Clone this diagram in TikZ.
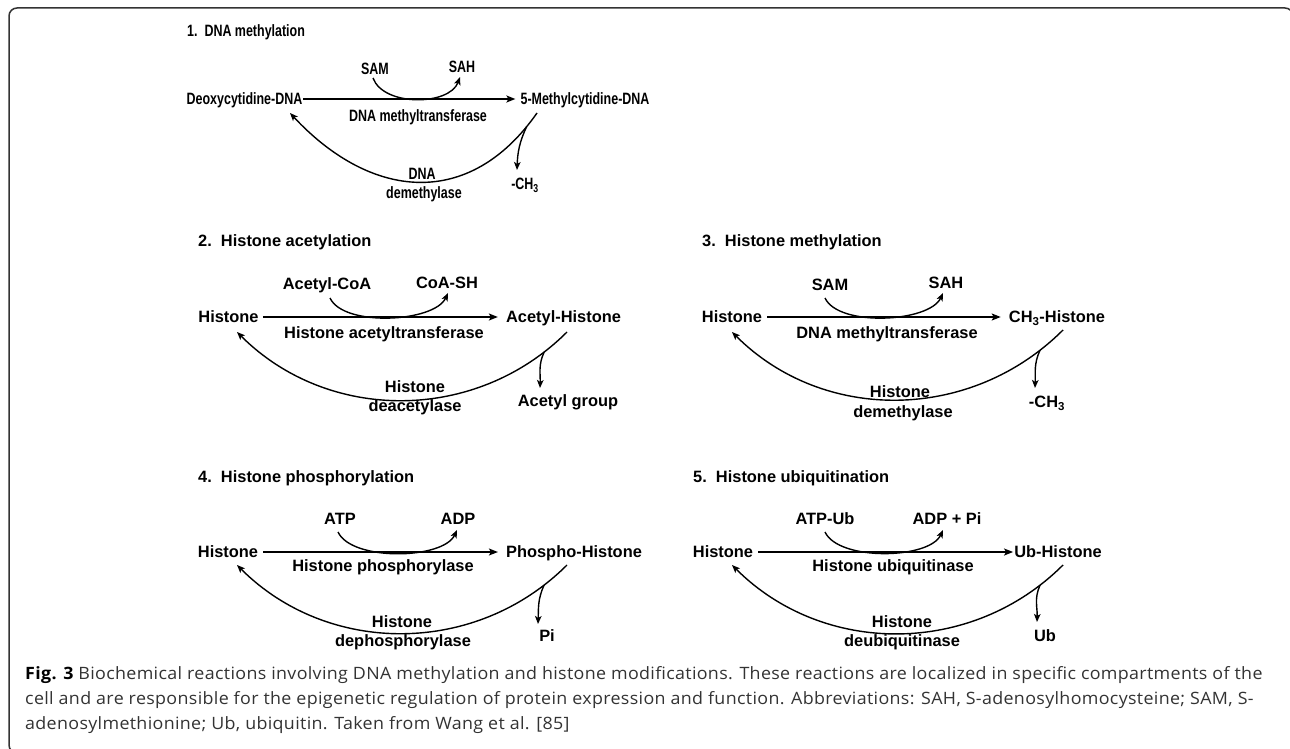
\documentclass[tikz,border=0pt]{standalone}
\usepackage{fontspec}
\setmainfont{Liberation Sans}
\newfontfamily\dfont{Liberation Sans}
\newfontfamily\nfont{Liberation Sans}[FakeStretch=0.76]
\newfontfamily\cfont{Open Sans}[FakeStretch=1.05,LetterSpace=2]
\usetikzlibrary{arrows.meta}
\tikzset{
  lbl/.style={inner sep=0pt, text height=11.7pt, text depth=0pt, font=\dfont\bfseries\fontsize{16.4}{18}\selectfont},
  nlbl/.style={lbl, font=\nfont\bfseries\fontsize{16.4}{18}\selectfont},
  conn/.style={line width=1.5pt, -{Stealth[length=9pt,width=7pt,inset=2pt]}},
  curv/.style={line width=1.4pt, -{Stealth[length=8pt,width=6.5pt,inset=2pt]}},
  capl/.style={inner sep=0pt, anchor=base west, text=black!80, font=\cfont\fontsize{17}{20}\selectfont},
  frame/.style={draw=black!80, line width=1.5pt, rounded corners=8pt}
}
\begin{document}
\begin{tikzpicture}[x=1pt,y=1pt]
\useasboundingbox (0,0) rectangle (1290,-749);
\clip (0,0) rectangle (1290,-749);
\fill[white] (0,0) rectangle (1290,-749);
\draw[frame] (24,-753) -- (9,-753) -- (9,-8) -- (1293,-8) -- (1293,-24);

% ---------- Panel 1 ----------
\node[nlbl, anchor=west] (t1) at (187,-31) {1.\ \ DNA methylation};
\node[nlbl] (n1a) at (244.5,-99) {Deoxycytidine-DNA};
\node[nlbl] (n1b) at (585,-99) {5-Methylcytidine-DNA};
\node[nlbl] (c1a) at (375,-69) {SAM};
\node[nlbl] (c1b) at (462,-67) {SAH};
\node[nlbl] (e1) at (418,-116) {DNA methyltransferase};
\node[nlbl] (d1a) at (422,-174) {DNA};
\node[nlbl] (d1b) at (424,-193) {demethylase};
\node[nlbl] (p1) at (525,-184) {-CH\textsubscript{3}};
\coordinate (tip1) at (517,-170);
\draw[conn, shorten <=0.5pt, shorten >=5pt] (n1a.east) -- (n1b.west);
\draw[curv] ([shift={(-2,-9)}]c1a.center) to[out=-70,in=-110,looseness=0.9] ([shift={(-2,-10)}]c1b.center);
\draw[curv] ([shift={(-48,-14)}]n1b.center) to[out=-125,in=-47,looseness=1.23] coordinate[pos=0.05] (j1) ([shift={(45.5,-14)}]n1a.center);
\draw[curv] (j1) to[out=-115,in=88] (tip1);

% ---------- Panel 2 ----------
\node[lbl, anchor=west] (t2) at (198,-241) {2.\ \ Histone acetylation};
\node[lbl] (n2a) at (228.5,-317) {Histone};
\node[lbl] (n2b) at (563.5,-317) {Acetyl-Histone};
\node[lbl] (c2a) at (327,-284) {Acetyl-CoA};
\node[lbl] (c2b) at (447,-283) {CoA-SH};
\node[lbl] (e2) at (384,-333) {Histone acetyltransferase};
\node[lbl] (d2a) at (415,-387) {Histone};
\node[lbl] (d2b) at (415,-406) {deacetylase};
\node[lbl] (p2) at (568,-401) {Acetyl group};
\coordinate (tip2) at (540,-388);
\draw[conn, shorten <=4pt, shorten >=8pt] (n2a.east) -- (n2b.west);
\draw[curv] ([shift={(3,-14)}]c2a.center) to[out=-65,in=-115,looseness=0.7] ([shift={(1,-10)}]c2b.center);
\draw[curv] ([shift={(3.5,-15)}]n2b.center) to[out=-135,in=-45] coordinate[pos=0.08] (j2) ([shift={(8.5,-15)}]n2a.center);
\draw[curv] (j2) to[out=-115,in=88] (tip2);

% ---------- Panel 3 ----------
\node[lbl, anchor=west] (t3) at (702,-241) {3.\ \ Histone methylation};
\node[lbl] (n3a) at (732,-317) {Histone};
\node[lbl] (n3b) at (1057,-317) {CH\textsubscript{3}-Histone};
\node[lbl] (c3a) at (830,-285) {SAM};
\node[lbl] (c3b) at (946,-283) {SAH};
\node[lbl] (e3) at (887,-333) {DNA methyltransferase};
\node[lbl] (d3a) at (900,-392) {Histone};
\node[lbl] (d3b) at (903,-412) {demethylase};
\node[lbl] (p3) at (1047,-402) {-CH\textsubscript{3}};
\coordinate (tip3) at (1035,-388);
\draw[conn, shorten <=5pt, shorten >=8pt] (n3a.east) -- (n3b.west);
\draw[curv] ([shift={(-5,-13)}]c3a.center) to[out=-65,in=-115,looseness=0.7] ([shift={(-3,-10)}]c3b.center);
\draw[curv] ([shift={(6,-13)}]n3b.center) to[out=-135,in=-45] coordinate[pos=0.08] (j3) ([shift={(0,-15)}]n3a.center);
\draw[curv] (j3) to[out=-115,in=88] (tip3);

% ---------- Panel 4 ----------
\node[lbl, anchor=west] (t4) at (198,-477) {4.\ \ Histone phosphorylation};
\node[lbl] (n4a) at (228,-552) {Histone};
\node[lbl] (n4b) at (574,-552) {Phospho-Histone};
\node[lbl] (c4a) at (340,-519) {ATP};
\node[lbl] (c4b) at (458,-519) {ADP};
\node[lbl] (e4) at (383,-566) {Histone phosphorylase};
\node[lbl] (d4a) at (402,-622) {Histone};
\node[lbl] (d4b) at (403,-641) {dephosphorylase};
\node[lbl] (p4) at (547,-636) {Pi};
\coordinate (tip4) at (538,-624);
\draw[conn, shorten <=5pt, shorten >=8pt] (n4a.east) -- (n4b.west);
\draw[curv] ([shift={(-2,-13)}]c4a.center) to[out=-65,in=-115,looseness=0.7] ([shift={(-1,-11)}]c4b.center);
\draw[curv] ([shift={(-7,-13)}]n4b.center) to[out=-135,in=-45] coordinate[pos=0.08] (j4) ([shift={(9,-13)}]n4a.center);
\draw[curv] (j4) to[out=-115,in=88] (tip4);

% ---------- Panel 5 ----------
\node[lbl, anchor=west] (t5) at (693,-477) {5.\ \ Histone ubiquitination};
\node[lbl] (n5a) at (723,-552) {Histone};
\node[lbl] (n5b) at (1058,-552) {Ub-Histone};
\node[lbl] (c5a) at (825,-519) {ATP-Ub};
\node[lbl] (c5b) at (947,-519) {ADP + Pi};
\node[lbl] (e5) at (893,-566) {Histone ubiquitinase};
\node[lbl] (d5a) at (902,-622) {Histone};
\node[lbl] (d5b) at (902,-641) {deubiquitinase};
\node[lbl] (p5) at (1045,-636) {Ub};
\coordinate (tip5) at (1037,-622);
\draw[conn, shorten <=5pt, shorten >=1pt] (n5a.east) -- (n5b.west);
\draw[curv] ([shift={(0,-13)}]c5a.center) to[out=-65,in=-115,looseness=0.7] ([shift={(-4,-11)}]c5b.center);
\draw[curv] ([shift={(5,-13)}]n5b.center) to[out=-135,in=-45] coordinate[pos=0.08] (j5) ([shift={(9,-13)}]n5a.center);
\draw[curv] (j5) to[out=-115,in=88] (tip5);

% ---------- Caption ----------
\node[capl] (cap1) at (25,-679) {{\bfseries\color{black}Fig. 3} Biochemical reactions involving DNA methylation and histone modifications. These reactions are localized in specific compartments of the};
\node[capl] (cap2) at (25,-704) {cell and are responsible for the epigenetic regulation of protein expression and function. Abbreviations: SAH, S-adenosylhomocysteine; SAM, S-};
\node[capl] (cap3) at (25,-729) {adenosylmethionine; Ub, ubiquitin. Taken from Wang et al. [85]};
\end{tikzpicture}
\end{document}
